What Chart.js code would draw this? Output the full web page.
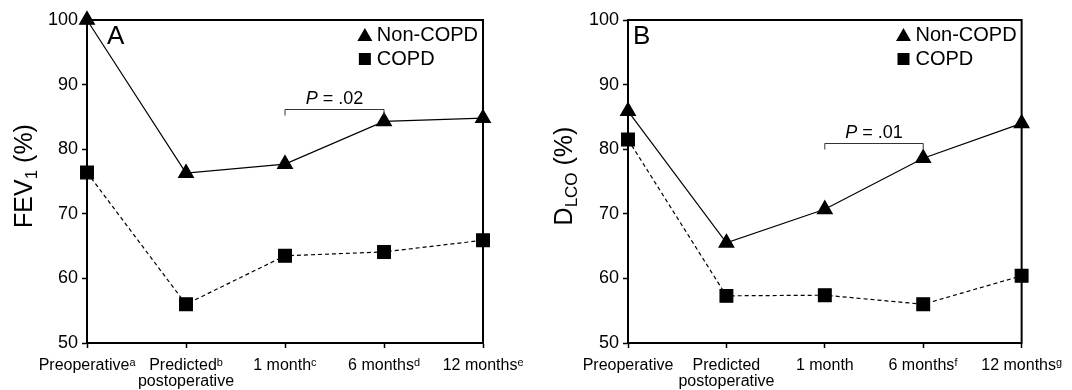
<!DOCTYPE html>
<html>
<head>
<meta charset="utf-8">
<script src="https://cdn.jsdelivr.net/npm/chart.js@4/dist/chart.umd.min.js"></script>
<style>
  body { margin: 0; background: #fff; }
  .panel { position: absolute; top: 0; width: 536px; height: 390px; }
</style>
</head>
<body>
<div class="panel" style="left:0"><canvas id="chartA" width="536" height="390"></canvas></div>
<div class="panel" style="left:536px"><canvas id="chartB" width="536" height="390"></canvas></div>
<script>
// categories (tick labels)
var labelsA = [["Preoperativeᵃ"], ["Predictedᵇ", "postoperative"], ["1 monthᶜ"], ["6 monthsᵈ"], ["12 monthsᵉ"]];
var labelsB = [["Preoperative"], ["Predicted", "postoperative"], ["1 month"], ["6 monthsᶠ"], ["12 monthsᵍ"]];

// panel A: FEV1 (%)
var fevNonCopd = [100, 76.3, 77.7, 84.3, 84.8];
var fevCopd = [76.4, 56.0, 63.5, 64.1, 65.9];

// panel B: DLCO (%)
var dlcoNonCopd = [85.9, 65.5, 70.7, 78.6, 84.0];
var dlcoCopd = [81.5, 57.3, 57.4, 56.0, 60.4];

var yTicks = [50, 60, 70, 80, 90, 100];

var FONT = "'Liberation Sans', Arial, 'DejaVu Sans', sans-serif";

// draws box, legend, panel letter, y title and P value bracket
var extras = {
  id: "extras",
  afterDraw: function(chart) {
    var o = chart.options.plugins.extras;
    var ctx = chart.ctx;
    var a = chart.chartArea;
    var xs = chart.scales.x, ys = chart.scales.y;
    ctx.save();

    // frame
    ctx.strokeStyle = "#000";
    ctx.lineWidth = 2;
    ctx.strokeRect(a.left, a.top, a.right - a.left, a.bottom - a.top);

    // panel letter
    ctx.fillStyle = "#000";
    ctx.font = "26px " + FONT;
    ctx.textBaseline = "alphabetic";
    ctx.textAlign = "left";
    ctx.fillText(o.letter, a.left + o.letterDx, 44);

    // legend
    ctx.font = "20px " + FONT;
    var w = ctx.measureText("Non-COPD").width;
    var tx = a.right - 5 - w;
    ctx.textBaseline = "middle";
    ctx.fillText(chart.data.datasets[0].label, tx, 35);
    ctx.fillText(chart.data.datasets[1].label, tx, 59);
    var mx = tx - 12;
    ctx.beginPath();
    ctx.moveTo(mx, 28); ctx.lineTo(mx + 7.5, 41); ctx.lineTo(mx - 7.5, 41); ctx.closePath();
    ctx.fill();
    ctx.fillRect(mx - 6, 53, 12, 12);

    // y title with subscript
    ctx.save();
    ctx.translate(o.titleX, 176);
    ctx.rotate(-Math.PI / 2);
    ctx.textBaseline = "alphabetic";
    var parts = o.title;
    var total = 0;
    parts.forEach(function(p) {
      ctx.font = (p.sub ? "17px " : "25px ") + FONT;
      p.w = ctx.measureText(p.t).width;
      total += p.w;
    });
    var x = -total / 2;
    parts.forEach(function(p) {
      ctx.font = (p.sub ? "17px " : "25px ") + FONT;
      ctx.fillText(p.t, x, p.sub ? 13 : 8);
      x += p.w;
    });
    ctx.restore();

    // P value bracket
    var x1 = xs.getPixelForValue(2), x2 = xs.getPixelForValue(3);
    var by = Math.round(ys.getPixelForValue(o.bracketY)) + 0.5;
    ctx.strokeStyle = "#333";
    ctx.lineWidth = 1;
    ctx.beginPath();
    ctx.moveTo(x1, by + 6); ctx.lineTo(x1, by); ctx.lineTo(x2, by); ctx.lineTo(x2, by + 6);
    ctx.stroke();
    ctx.font = "italic 18px " + FONT;
    var pw = ctx.measureText("P").width;
    ctx.font = "18px " + FONT;
    var rest = " = " + o.pValue;
    var rw = ctx.measureText(rest).width;
    var sx = (x1 + x2) / 2 - (pw + rw) / 2;
    ctx.textBaseline = "alphabetic";
    ctx.font = "italic 18px " + FONT;
    ctx.fillText("P", sx, by - 6);
    ctx.font = "18px " + FONT;
    ctx.fillText(rest, sx + pw, by - 6);

    ctx.restore();
  }
};

function makeChart(id, labels, nonCopd, copd, cfg) {
  return new Chart(document.getElementById(id).getContext("2d"), {
    type: "line",
    data: {
      labels: labels,
      datasets: [
        {
          label: "Non-COPD",
          data: nonCopd,
          borderColor: "#000",
          backgroundColor: "#000",
          borderWidth: 1.2,
          pointStyle: "triangle",
          pointRadius: 8.5,
          pointHoverRadius: 8.5,
          clip: false
        },
        {
          label: "COPD",
          data: copd,
          borderColor: "#000",
          backgroundColor: "#000",
          borderWidth: 1.2,
          borderDash: [4, 3],
          pointStyle: "rect",
          pointRadius: 9,
          pointHoverRadius: 9,
          clip: false
        }
      ]
    },
    options: {
      responsive: false,
      animation: false,
      layout: { padding: { top: 20, right: cfg.padRight, left: 0, bottom: 0 } },
      plugins: {
        legend: { display: false },
        tooltip: { enabled: false },
        extras: cfg
      },
      scales: {
        x: {
          offset: false,
          grid: { drawOnChartArea: false, tickLength: 5, tickColor: "#000", tickWidth: 1.5 },
          border: { display: true, color: "#000", width: 2 },
          ticks: {
            color: "#000",
            maxRotation: 0,
            autoSkip: false,
            padding: 10,
            font: { family: FONT, size: 16, lineHeight: 1.0 }
          },
          afterFit: function(s) { s.height = 47; }
        },
        y: {
          min: 50,
          max: 100,
          afterBuildTicks: function(s) { s.ticks = yTicks.map(function(v) { return { value: v }; }); },
          grid: { drawOnChartArea: false, tickLength: 5, tickColor: "#000", tickWidth: 1.5 },
          border: { display: true, color: "#000", width: 2 },
          ticks: {
            color: "#000",
            padding: 4,
            font: { family: FONT, size: 18 }
          },
          afterFit: function(s) { s.width = cfg.axisWidth; }
        }
      }
    },
    plugins: [extras]
  });
}

makeChart("chartA", labelsA, fevNonCopd, fevCopd, {
  letter: "A", letterDx: 20, axisWidth: 87, padRight: 53, titleX: 24,
  title: [{ t: "FEV" }, { t: "1", sub: true }, { t: " (%)" }],
  bracketY: 86.2, pValue: ".02"
});

makeChart("chartB", labelsB, dlcoNonCopd, dlcoCopd, {
  letter: "B", letterDx: 5, axisWidth: 92, padRight: 49, titleX: 28,
  title: [{ t: "D" }, { t: "LCO", sub: true }, { t: " (%)" }],
  bracketY: 81.0, pValue: ".01"
});
</script>
</body>
</html>
